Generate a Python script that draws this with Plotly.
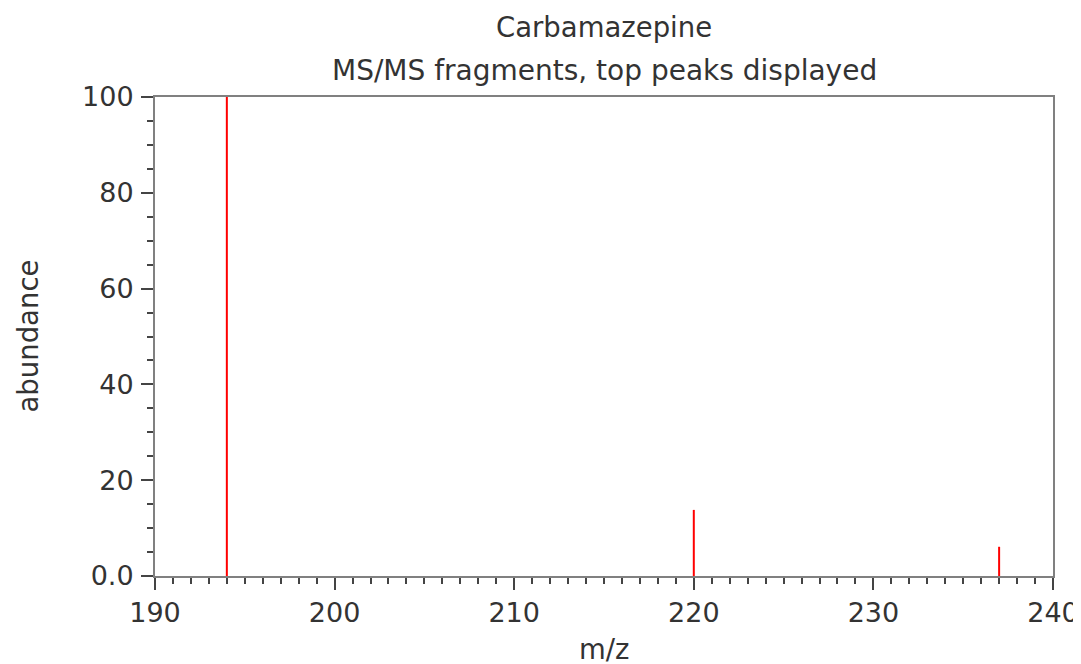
import plotly.graph_objects as go

mz = [194.0, 220.0, 237.0]
abundance = [100.0, 13.8, 6.1]

title_main = "Carbamazepine"
title_sub = "MS/MS fragments, top peaks displayed"
x_label = "m/z"
y_label = "abundance"
x_ticks = [190, 200, 210, 220, 230, 240]
y_ticks = [0, 20, 40, 60, 80, 100]
y_tick_text = ["0.0", "20", "40", "60", "80", "100"]

xs, ys = [], []
for m, a in zip(mz, abundance):
    xs += [m, m, None]
    ys += [0, a, None]

FONT = "DejaVu Sans"
TXT = "#333333"
TICKFONT = dict(family=FONT, size=27, color=TXT)
LABFONT = dict(family=FONT, size=27.5, color=TXT)
SUBFONT = dict(family=FONT, size=28, color=TXT)

# page has an 8px body margin, so the figure is sized to fit the window
W, H = 1073, 656
L, T, R, B = 147, 89, 28, 88
PW, PH = W - L - R, H - T - B

fig = go.Figure()
fig.add_trace(go.Scatter(x=xs, y=ys, mode="lines",
                         line=dict(color="#ff0000", width=2),
                         hoverinfo="skip", showlegend=False))

axis_common = dict(
    showgrid=False, zeroline=False, automargin=False,
    showline=True, linecolor="#808080", linewidth=2, mirror=True,
    ticks="outside", tickcolor="#444444", tickwidth=2, ticklen=12,
    tickfont=TICKFONT,
)

fig.update_xaxes(range=[190, 240], tickvals=x_ticks,
                 minor=dict(dtick=1, ticks="outside", ticklen=6,
                            tickcolor="#444444", tickwidth=2),
                 ticklabelstandoff=0,
                 **axis_common)
fig.update_yaxes(range=[0, 100], tickvals=y_ticks, ticktext=y_tick_text,
                 minor=dict(dtick=5, ticks="outside", ticklen=6,
                            tickcolor="#444444", tickwidth=2),
                 ticklabelstandoff=2,
                 **axis_common)

fig.update_layout(
    width=W, height=H,
    margin=dict(l=L, r=R, t=T, b=B),
    plot_bgcolor="white", paper_bgcolor="white",
    font=dict(family=FONT, color=TXT),
    annotations=[
        dict(text=title_main, x=0.5, y=1 + 70 / PH, xref="paper", yref="paper",
             xanchor="center", yanchor="middle", showarrow=False, font=LABFONT),
        dict(text=title_sub, x=0.5, y=1 + 27 / PH, xref="paper", yref="paper",
             xanchor="center", yanchor="middle", showarrow=False, font=SUBFONT),
        dict(text=x_label, x=0.5, y=-73 / PH, xref="paper", yref="paper",
             xanchor="center", yanchor="middle", showarrow=False, font=LABFONT),
        dict(text=y_label, x=-128 / PW, y=0.5, xref="paper", yref="paper",
             xanchor="center", yanchor="middle", textangle=-90, showarrow=False,
             font=LABFONT),
    ],
)

fig.write_html("out.html")
